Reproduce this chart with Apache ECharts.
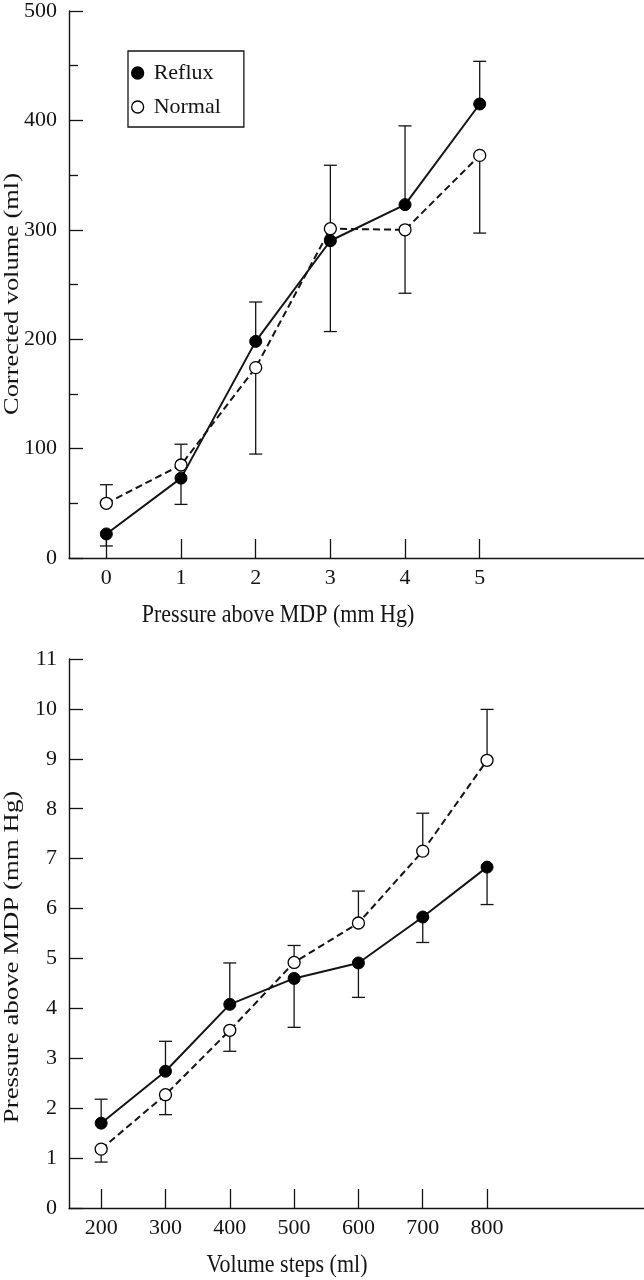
<!DOCTYPE html>
<html>
<head>
<meta charset="utf-8">
<script src="https://cdn.jsdelivr.net/npm/echarts@6/dist/echarts.min.js"></script>
<style>
html,body{margin:0;padding:0;background:#fff;}
#chart{width:644px;height:1280px;}
</style>
</head>
<body>
<div id="chart"></div>
<script>
// ---- Top panel data: corrected volume vs pressure above MDP ----
const topPressure = [0, 1, 2, 3, 4, 5];
const topReflux = [22, 73, 198, 290, 323, 415];
const topNormal = [50, 85, 174, 301, 300, 368];
const topRefluxErrEnd = [11, 49, 234, 207, 395, 454];
const topNormalErrEnd = [67, 104, 95, 359, 242, 297];
const topYTicks = [0, 100, 200, 300, 400, 500];

// ---- Bottom panel data: pressure above MDP vs volume steps ----
const botVolume = [200, 300, 400, 500, 600, 700, 800];
const botReflux = [1.70, 2.74, 4.08, 4.60, 4.91, 5.83, 6.83];
const botNormal = [1.18, 2.27, 3.56, 4.92, 5.71, 7.15, 8.97];
const botRefluxErrEnd = [2.18, 3.34, 4.91, 3.62, 4.22, 5.32, 6.08];
const botNormalErrEnd = [0.92, 1.87, 3.14, 5.26, 6.35, 7.91, 9.99];

const seriesNames = ['Reflux', 'Normal'];
const titles = {
  topX: 'Pressure above MDP (mm Hg)',
  topY: 'Corrected volume (ml)',
  botX: 'Volume steps (ml)',
  botY: 'Pressure above MDP (mm Hg)'
};

const FONT = '"Liberation Serif", "Times New Roman", "DejaVu Serif", serif';
const INK = '#141414';

function pairs(xs, ys) { return xs.map((x, i) => [x, ys[i]]); }
function triples(xs, ys, es) { return xs.map((x, i) => [x, ys[i], es[i]]); }

function errRender(params, api) {
  const x = api.value(0), y0 = api.value(1), y1 = api.value(2);
  const p0 = api.coord([x, y0]);
  const p1 = api.coord([x, y1]);
  const hw = 6.5;
  const st = { stroke: INK, lineWidth: 1.3 };
  return {
    type: 'group',
    children: [
      { type: 'line', shape: { x1: p0[0], y1: p0[1], x2: p1[0], y2: p1[1] }, style: st },
      { type: 'line', shape: { x1: p1[0] - hw, y1: p1[1], x2: p1[0] + hw, y2: p1[1] }, style: st }
    ]
  };
}

const axisLineStyle = { onZero: false, lineStyle: { color: INK, width: 1.4 } };
const labelStyle = { color: INK, fontFamily: FONT, fontSize: 22 };

const option = {
  animation: false,
  backgroundColor: '#ffffff',
  grid: [
    { left: 69, top: 8, width: 575, height: 550, containLabel: false },
    { left: 69, top: 659, width: 575, height: 549, containLabel: false }
  ],
  xAxis: [
    {
      gridIndex: 0, type: 'value', min: -0.5, max: 7.2,
      axisLine: axisLineStyle,
      axisTick: { show: true, inside: true, length: 19, lineStyle: { color: INK, width: 1.3 }, customValues: topPressure },
      axisLabel: Object.assign({ margin: 9, customValues: topPressure }, labelStyle),
      splitLine: { show: false }
    },
    {
      gridIndex: 1, type: 'value', min: 150, max: 1044,
      axisLine: axisLineStyle,
      axisTick: { show: true, inside: true, length: 19, lineStyle: { color: INK, width: 1.3 }, customValues: botVolume },
      axisLabel: Object.assign({ margin: 9, customValues: botVolume }, labelStyle),
      splitLine: { show: false }
    }
  ],
  yAxis: [
    {
      gridIndex: 0, type: 'value', min: 0, max: 500, interval: 100,
      axisLine: { show: true, onZero: false, lineStyle: { color: INK, width: 1.4 } },
      axisTick: { show: true, inside: true, length: 14, lineStyle: { color: INK, width: 1.3 } },
      minorTick: { show: true, splitNumber: 2, length: 9, lineStyle: { color: INK, width: 1.3 } },
      axisLabel: Object.assign({ margin: 12 }, labelStyle),
      splitLine: { show: false }
    },
    {
      gridIndex: 1, type: 'value', min: 0, max: 11, interval: 1,
      axisLine: { show: true, onZero: false, lineStyle: { color: INK, width: 1.4 } },
      axisTick: { show: true, inside: true, length: 14, lineStyle: { color: INK, width: 1.3 } },
      axisLabel: Object.assign({ margin: 12 }, labelStyle),
      splitLine: { show: false }
    }
  ],
  legend: {
    orient: 'vertical',
    left: 128, top: 51,
    padding: [11, 23, 9, 3],
    itemGap: 12,
    itemWidth: 22, itemHeight: 12,
    borderColor: INK, borderWidth: 1.3, borderRadius: 0,
    backgroundColor: '#fff',
    textStyle: { color: INK, fontFamily: FONT, fontSize: 22, lineHeight: 22 },
    data: [
      { name: seriesNames[0], icon: 'circle', itemStyle: { color: '#000', borderColor: '#000', borderWidth: 1.3 } },
      { name: seriesNames[1], icon: 'circle', itemStyle: { color: '#fff', borderColor: '#000', borderWidth: 1.3 } }
    ]
  },
  graphic: [
    { type: 'text', x: 278, y: 615, scaleY: 1.15,
      style: { text: titles.topX, fontFamily: FONT, fontSize: 22, fill: INK, align: 'center', verticalAlign: 'middle' } },
    { type: 'text', x: 12, y: 294, rotation: Math.PI / 2, scaleX: 1.2,
      style: { text: titles.topY, fontFamily: FONT, fontSize: 22, fill: INK, align: 'center', verticalAlign: 'middle' } },
    { type: 'text', x: 287, y: 1265, scaleY: 1.15,
      style: { text: titles.botX, fontFamily: FONT, fontSize: 22, fill: INK, align: 'center', verticalAlign: 'middle' } },
    { type: 'text', x: 12, y: 957, rotation: Math.PI / 2, scaleX: 1.22,
      style: { text: titles.botY, fontFamily: FONT, fontSize: 22, fill: INK, align: 'center', verticalAlign: 'middle' } }
  ],
  series: [
    // error bars (behind)
    { type: 'custom', name: seriesNames[0], xAxisIndex: 0, yAxisIndex: 0, z: 1, renderItem: errRender,
      encode: { x: 0, y: [1, 2] }, data: triples(topPressure, topReflux, topRefluxErrEnd), silent: true },
    { type: 'custom', name: seriesNames[1], xAxisIndex: 0, yAxisIndex: 0, z: 1, renderItem: errRender,
      encode: { x: 0, y: [1, 2] }, data: triples(topPressure, topNormal, topNormalErrEnd), silent: true },
    { type: 'custom', name: seriesNames[0], xAxisIndex: 1, yAxisIndex: 1, z: 1, renderItem: errRender,
      encode: { x: 0, y: [1, 2] }, data: triples(botVolume, botReflux, botRefluxErrEnd), silent: true },
    { type: 'custom', name: seriesNames[1], xAxisIndex: 1, yAxisIndex: 1, z: 1, renderItem: errRender,
      encode: { x: 0, y: [1, 2] }, data: triples(botVolume, botNormal, botNormalErrEnd), silent: true },
    // lines
    { type: 'line', name: seriesNames[0], xAxisIndex: 0, yAxisIndex: 0, z: 3,
      data: pairs(topPressure, topReflux), symbol: 'circle', symbolSize: 12, showAllSymbol: true,
      lineStyle: { color: INK, width: 2 }, itemStyle: { color: '#000', borderColor: '#000', borderWidth: 1 } },
    { type: 'line', name: seriesNames[1], xAxisIndex: 0, yAxisIndex: 0, z: 2,
      data: pairs(topPressure, topNormal), symbol: 'circle', symbolSize: 12, showAllSymbol: true,
      lineStyle: { color: INK, width: 2, type: [7, 4] }, itemStyle: { color: '#fff', borderColor: '#000', borderWidth: 1.3 } },
    { type: 'line', name: seriesNames[0], xAxisIndex: 1, yAxisIndex: 1, z: 3,
      data: pairs(botVolume, botReflux), symbol: 'circle', symbolSize: 12, showAllSymbol: true,
      lineStyle: { color: INK, width: 2 }, itemStyle: { color: '#000', borderColor: '#000', borderWidth: 1 } },
    { type: 'line', name: seriesNames[1], xAxisIndex: 1, yAxisIndex: 1, z: 2,
      data: pairs(botVolume, botNormal), symbol: 'circle', symbolSize: 12, showAllSymbol: true,
      lineStyle: { color: INK, width: 2, type: [7, 4] }, itemStyle: { color: '#fff', borderColor: '#000', borderWidth: 1.3 } }
  ]
};

const chart = echarts.init(document.getElementById('chart'), null, { renderer: 'canvas' });
chart.setOption(option);
</script>
</body>
</html>
